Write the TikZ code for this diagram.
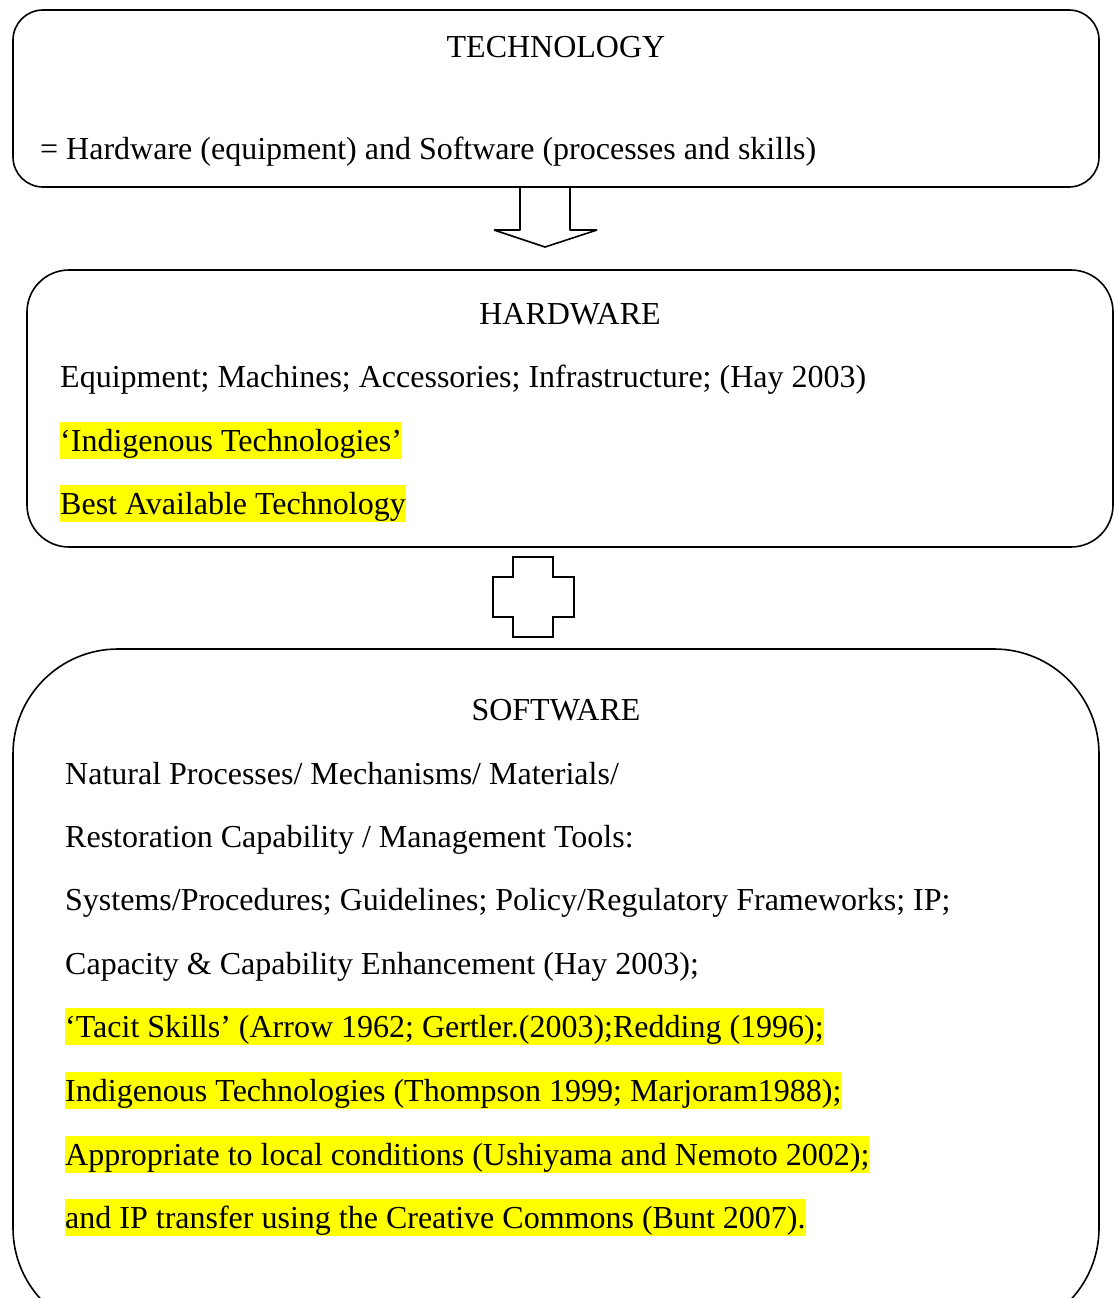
\documentclass[tikz,border=0pt]{standalone}
\usepackage{fontspec}
\setmainfont{Liberation Serif}
\definecolor{marker}{RGB}{255, 255, 0}
\tikzset{
  panel/.style={draw, line width=1.6pt, inner sep=0pt},
  entry/.style={anchor=base west, inner sep=0pt, font=\fontsize{32}{38}\selectfont},
  marked/.style={entry, fill=marker, text height=29pt, text depth=8pt},
  heading/.style={anchor=base, inner sep=0pt, font=\fontsize{32}{38}\selectfont}
}

\begin{document}
\begin{tikzpicture}[x=1pt, y=-1pt]
            \useasboundingbox                                       (0, 0) rectangle (1117, 1298);
            \clip                                                   (0, 0) rectangle (1117, 1298);
            % boxes
            \node[panel, rounded corners=30pt,  minimum width=1086pt, minimum height=177pt] (technology) at ( 556.0,  98.5) {};
            \node[panel, rounded corners=42pt,  minimum width=1086pt, minimum height=277pt] (hardware)   at ( 570.0, 408.5) {};
            \node[panel, rounded corners=105pt, minimum width=1086pt, minimum height=684pt] (software)   at ( 556.0, 991.0) {};
            % down arrow and plus
            \draw[line width=1.6pt, line join=bevel] (520, 187) -- (520, 230) -- (494, 230) -- (545, 247) -- (597, 230) -- (570, 230) -- (570, 187);
            \draw[line width=1.6pt] (513, 557) -- (553, 557) -- (553, 577) -- (574, 577) -- (574, 617) -- (553, 617) -- (553, 637)
                                 -- (513, 637) -- (513, 617) -- (493, 617) -- (493, 577) -- (513, 577) -- cycle;
            % technology
            \node[heading] (techtitle) at (556,   58) {TECHNOLOGY};
            \node[entry]   (techdef)   at ( 40,  159) {= Hardware (equipment) and Software (processes and skills)};
            % hardware
            \node[heading] (hardtitle) at (570,  324) {HARDWARE};
            \node[entry]   (hardone)   at ( 60,  387) {Equipment; Machines; Accessories; Infrastructure; (Hay 2003)};
            \node[marked]  (hardtwo)   at ( 60,  451) {‘Indigenous Technologies’};
            \node[marked]  (hardthree) at ( 60,  514) {Best Available Technology};
            % software
            \node[heading] (softtitle) at (556,  720) {SOFTWARE};
            \node[entry]   (softone)   at ( 65,  784) {Natural Processes/ Mechanisms/ Materials/};
            \node[entry]   (softtwo)   at ( 65,  847) {Restoration Capability / Management Tools:};
            \node[entry]   (softthree) at ( 65,  910) {Systems/Procedures; Guidelines; Policy/Regulatory Frameworks; IP;};
            \node[entry]   (softfour)  at ( 65,  974) {Capacity \& Capability Enhancement (Hay 2003);};
            \node[marked]  (softfive)  at ( 65, 1037) {‘Tacit Skills’ (Arrow 1962; Gertler.(2003);Redding (1996);};
            \node[marked]  (softsix)   at ( 65, 1101) {Indigenous Technologies (Thompson 1999; Marjoram1988);};
            \node[marked]  (softseven) at ( 65, 1165) {Appropriate to local conditions (Ushiyama and Nemoto 2002);};
            \node[marked]  (softeight) at ( 65, 1228) {and IP transfer using the Creative Commons (Bunt 2007).};
        \end{tikzpicture}
\end{document}
